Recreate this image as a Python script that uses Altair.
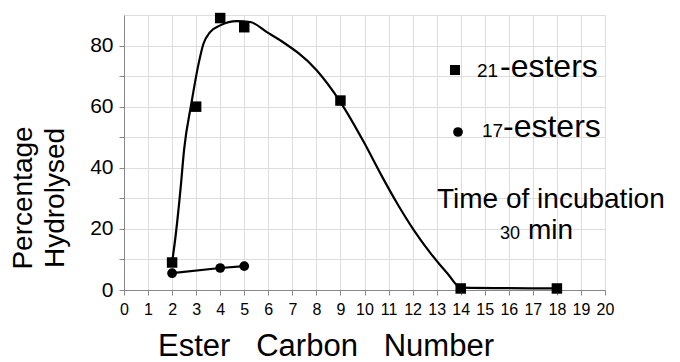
import altair as alt
import pandas as pd

# 21-esters (squares)
carbon_21 = [2, 3, 4, 5, 9, 14, 18]
pct_21 = [9, 60, 89, 86, 62, 0.5, 0.5]

# 17-esters (circles)
carbon_17 = [2, 4, 5]
pct_17 = [5.5, 7.2, 7.8]

# hand-drawn fitted curve through the 21-ester points
curve_x = [2.0, 2.15, 2.35, 2.5, 2.8, 3.1, 3.3, 3.58, 4.0, 4.7, 5.25, 5.94, 6.5, 8.0, 9.0,
           10.0, 10.67, 11.36, 12.05, 12.75, 13.45, 14.0, 18.0]
curve_y = [9, 18, 33, 46, 61, 74, 80.5, 84.4, 86.6, 88, 87.7, 84.4, 81.7, 72, 61.5,
           48, 38, 28.3, 19.6, 12, 5.4, 0.8, 0.5]

x_ticks = list(range(0, 21))
y_ticks = [0, 10, 20, 30, 40, 50, 60, 70, 80]

y_title_lines = ["Percentage", "Hydrolysed"]
x_title = "Ester\u00a0\u00a0 Carbon\u00a0\u00a0 Number"
legend_small = ["21", "17"]
legend_main = "-esters"
note_line1 = "Time of incubation"
note_small = "30"
note_unit = "min"

FONT = "Liberation Sans"

df21 = pd.DataFrame({"c": carbon_21, "p": pct_21})
df17 = pd.DataFrame({"c": carbon_17, "p": pct_17})
dfc = pd.DataFrame({"c": curve_x, "p": curve_y})

xs = alt.Scale(domain=[0, 20], nice=False, zero=False)
ys = alt.Scale(domain=[0, 90], nice=False)

xax = alt.Axis(values=x_ticks, title=None, labelFontSize=16, labelFont=FONT,
               labelPadding=6, labelOverlap=False, labelFlush=False, format="d", tickCount=21)
yax = alt.Axis(values=y_ticks, title=None, labelFontSize=21, labelFont=FONT,
               labelPadding=6, labelOverlap=False, labelFlush=False,
               labelExpr="datum.value % 20 == 0 ? datum.label : ''")


def X():
    return alt.X("c:Q", scale=xs, axis=xax)


def Y():
    return alt.Y("p:Q", scale=ys, axis=yax)


curve = alt.Chart(dfc).mark_line(interpolate="monotone", color="black", strokeWidth=2.2).encode(x=X(), y=Y())
line17 = alt.Chart(df17).mark_line(color="black", strokeWidth=2.2).encode(x=X(), y=Y())
sq = alt.Chart(df21).mark_point(shape="square", filled=True, size=110, color="black", opacity=1).encode(x=X(), y=Y())
circ = alt.Chart(df17).mark_point(shape="circle", filled=True, size=95, color="black", opacity=1).encode(x=X(), y=Y())


def txt(s, x, y, size, angle=0, align="left"):
    kw = dict(font=FONT, fontSize=size, color="black", align=align, baseline="alphabetic")
    if angle:
        kw["angle"] = angle
    return alt.Chart(pd.DataFrame({"t": [s]})).mark_text(**kw).encode(
        x=alt.value(x), y=alt.value(y), text="t:N")


leg_sq = alt.Chart(pd.DataFrame({"t": [legend_small[0]]})).mark_point(
    shape="square", filled=True, size=100, color="black", opacity=1).encode(x=alt.value(331), y=alt.value(55))
leg_ci = alt.Chart(pd.DataFrame({"t": [legend_small[1]]})).mark_point(
    shape="circle", filled=True, size=95, color="black", opacity=1).encode(x=alt.value(334), y=alt.value(117))

texts = [
    txt(legend_small[0], 353, 62, 19),
    txt(legend_main, 376, 62, 32),
    txt(legend_small[1], 358, 122, 19),
    txt(legend_main, 379, 122, 32),
    txt(note_line1, 313, 193, 28),
    txt(note_small, 376, 224, 18),
    txt(note_unit, 404, 224, 28),
    txt(x_title, 202, 341, 31, align="center"),
    txt(y_title_lines[0], -92, 183, 28, angle=270, align="center"),
    txt(y_title_lines[1], -60, 183, 28, angle=270, align="center"),
]

chart = alt.layer(curve, line17, sq, circ, leg_sq, leg_ci, *texts).properties(
    width=481, height=275,
    autosize=alt.AutoSizeParams(type="none"),
    padding={"left": 116, "top": 7, "right": 67, "bottom": 80},
).configure_view(stroke=None).configure_axis(
    grid=False, domainColor="black", domainWidth=2.5, tickColor="black",
    tickWidth=2, tickSize=5, labelColor="black",
).configure(background="white")

chart.save("out.html", embed_options={"renderer": "svg", "actions": False})
